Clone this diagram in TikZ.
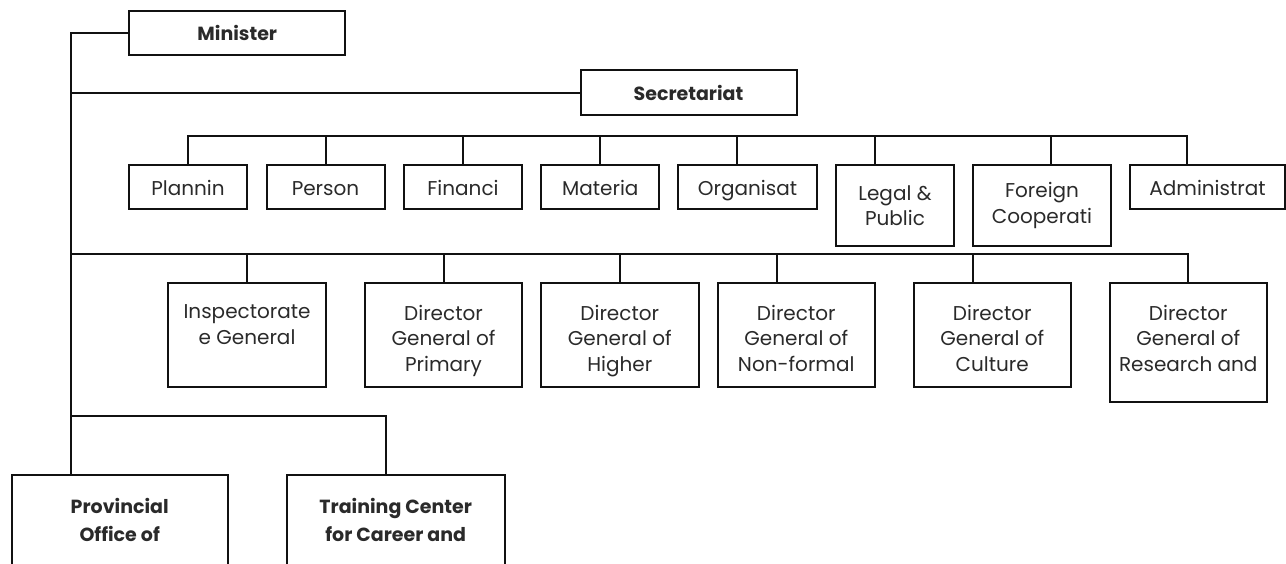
\documentclass[tikz,border=0pt]{standalone}
\usepackage{fontspec}
\setmainfont{Poppins}
\definecolor{linec}{HTML}{111111}
\definecolor{textc}{HTML}{2A2A2A}
\begin{document}
\begin{tikzpicture}[x=1pt,y=-1pt,
  every node/.style={inner sep=0pt, outer sep=0pt},
  txt/.style={font=\fontsize{20}{25.5}\selectfont, text=textc, align=center},
  bold/.style={font=\fontsize{19}{28}\selectfont\bfseries, text=textc, align=center},
  box/.style={draw=linec, line width=2pt, anchor=north west, txt},
  oneline/.style={text height=18pt, text depth=2pt},
  conn/.style={draw=linec, line width=2pt}]
\useasboundingbox (0,0) rectangle (1286,563);
\clip (0,0) rectangle (1286,563);

% top level
\node[box, bold, minimum width=216pt, minimum height=44pt] (min) at (129.3,11.3) {Minister};
\node[box, bold, minimum width=216pt, minimum height=45pt] (sec) at (580.5,70) {Secretariat};

% departments under the secretariat
\node[box, oneline, minimum width=118pt, minimum height=44pt] (pla) at (129,165) {Plannin};
\node[box, oneline, minimum width=118pt, minimum height=44pt] (per) at (266.5,165) {Person};
\node[box, oneline, minimum width=118pt, minimum height=44pt] (fin) at (404,165) {Financi};
\node[box, oneline, minimum width=118pt, minimum height=44pt] (mat) at (541.3,165) {Materia};
\node[box, oneline, minimum width=139pt, minimum height=44pt] (org) at (678,165) {Organisat};
\node[box, minimum width=118pt, minimum height=81pt] (leg) at (836,165) {Legal \&\\Public};
\node[box, minimum width=138pt, minimum height=81pt] (fco) at (973,165) {Foreign\\Cooperati};
\node[box, oneline, minimum width=155pt, minimum height=44pt] (adm) at (1130,165) {Administrat};

% directorates general
\node[box, minimum width=157.5pt, minimum height=104pt] (ins) at (168.3,283) {};
\node[box, minimum width=157pt, minimum height=104pt] (pri) at (365,283) {};
\node[box, minimum width=157.5pt, minimum height=104pt] (hig) at (541,283) {};
\node[box, minimum width=156.5pt, minimum height=104pt] (nfo) at (718,283) {};
\node[box, minimum width=156.5pt, minimum height=104pt] (cul) at (914,283) {};
\node[box, minimum width=156.5pt, minimum height=119pt] (res) at (1110,283) {};
\node[txt, anchor=north] (ins-t) at ([yshift=-22pt]ins.north) {Inspectorate\\e General};
\node[txt, anchor=north] (pri-t) at ([yshift=-22pt]pri.north) {Director\\General of\\Primary};
\node[txt, anchor=north] (hig-t) at ([yshift=-22pt]hig.north) {Director\\General of\\Higher};
\node[txt, anchor=north] (nfo-t) at ([yshift=-22pt]nfo.north) {Director\\General of\\Non-formal};
\node[txt, anchor=north] (cul-t) at ([yshift=-22pt]cul.north) {Director\\General of\\Culture};
\node[txt, anchor=north] (res-t) at ([yshift=-22pt]res.north) {Director\\General of\\Research and};

% offices at the bottom
\node[box, minimum width=216pt, minimum height=150pt] (prov) at (11.7,475) {};
\node[box, minimum width=218pt, minimum height=150pt] (trn) at (286.7,475) {};
\node[bold, anchor=north] (prov-t) at ([yshift=-23pt]prov.north) {Provincial\\Office of};
\node[bold, anchor=north] (trn-t) at ([yshift=-23pt]trn.north) {Training Center\\for Career and};

% reference lines
\coordinate (trunk) at (70.5,0);
\coordinate (dbar) at (0,136);
\coordinate (gbar) at (0,254);
\coordinate (bbar) at (0,416);

% main trunk
\draw[conn] (min.west) -| (prov.north -| trunk);
\draw[conn] (sec.west) -- (sec.west -| trunk);

% department bar
\draw[conn] (pla.north) -- (pla.north |- dbar) -- ([xshift=-20.5pt]adm.north |- dbar) -- ([xshift=-20.5pt]adm.north);
\foreach \n/\s in {per/0,fin/0,mat/0,org/-10.5,leg/-20,fco/9}
  \draw[conn] ([xshift=\s pt]\n.north) -- ([xshift=\s pt]\n.north |- dbar);

% directorate bar
\draw[conn] (trunk |- gbar) -- (res.north |- gbar) -- (res.north);
\foreach \n/\s in {ins/0,pri/0,hig/0,nfo/-19,cul/-19.4}
  \draw[conn] ([xshift=\s pt]\n.north) -- ([xshift=\s pt]\n.north |- gbar);

% bottom bar
\draw[conn] (trunk |- bbar) -| ([xshift=-9.7pt]trn.north);
\end{tikzpicture}
\end{document}
